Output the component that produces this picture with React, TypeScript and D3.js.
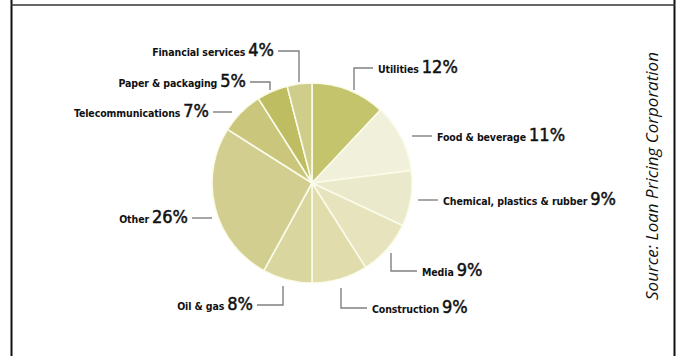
import React from "react";
import * as d3 from "d3";

const categories = [
  "Utilities",
  "Food & beverage",
  "Chemical, plastics & rubber",
  "Media",
  "Construction",
  "Oil & gas",
  "Other",
  "Telecommunications",
  "Paper & packaging",
  "Financial services",
];
const shares = [12, 11, 9, 9, 9, 8, 26, 7, 5, 4];
const sliceColors = [
  "#c4c46c",
  "#f1f0da",
  "#ebe9cb",
  "#e6e3bd",
  "#e0dcab",
  "#d9d69f",
  "#d1ce8f",
  "#cac77d",
  "#bebd62",
  "#cfcd8a",
];
const sourceText = "Source: Loan Pricing Corporation";

// label layout (leader polyline relative to pie centre, text side)
const labelLayout: { pts: [number, number][]; side: "start" | "end" }[] = [
  { pts: [[42, -93], [42, -115], [61, -115]], side: "start" },
  { pts: [[100, -47], [120, -47]], side: "start" },
  { pts: [[106, 17], [126, 17]], side: "start" },
  { pts: [[79, 70], [79, 88], [105, 88]], side: "start" },
  { pts: [[29, 105], [29, 125], [55, 125]], side: "start" },
  { pts: [[-29, 103], [-29, 122], [-55, 122]], side: "end" },
  { pts: [[-100, 35], [-120, 35]], side: "end" },
  { pts: [[-80, -71], [-99, -71]], side: "end" },
  { pts: [[-42, -93], [-42, -101], [-62, -101]], side: "end" },
  { pts: [[-13, -101], [-13, -132], [-34, -132]], side: "end" },
];

const W = 678;
const H = 356;
const cx = 312;
const cy = 183;
const R = 100;

export default function App() {
  const pie = d3
    .pie<number>()
    .sort(null)
    .value((d) => d)
    .startAngle(0)
    .endAngle(2 * Math.PI);
  const arcs = pie(shares);
  const arc = d3.arc<d3.PieArcDatum<number>>().innerRadius(0).outerRadius(R);
  const line = d3.line();
  const nameFont = "'DejaVu Sans Condensed', 'DejaVu Sans', sans-serif";

  return (
    <svg
      width={W}
      height={H}
      style={{ position: "absolute", left: 0, top: 0, background: "#fff" }}
    >
      <rect x={0} y={0} width={W} height={H} fill="#fff" />
      {/* frame */}
      <line x1={11.5} y1={0} x2={11.5} y2={H} stroke="#111" strokeWidth={2} />
      <line x1={674.5} y1={0} x2={674.5} y2={H} stroke="#111" strokeWidth={2} />
      <line x1={11} y1={5} x2={675} y2={5} stroke="#333" strokeWidth={1.5} />

      <g transform={`translate(${cx},${cy})`}>
        {arcs.map((a, i) => (
          <path
            key={i}
            d={arc(a) || ""}
            fill={sliceColors[i]}
            stroke="#fbfbea"
            strokeWidth={1.6}
            strokeLinejoin="round"
          />
        ))}
        {labelLayout.map((l, i) => {
          const end = l.pts[l.pts.length - 1];
          const tx = end[0] + (l.side === "start" ? 5 : -4);
          return (
            <g key={i}>
              <path d={line(l.pts) || ""} fill="none" stroke="#808080" strokeWidth={1.4} />
              <text
                x={tx}
                y={end[1] + 5}
                textAnchor={l.side}
                fill="#111"
                fontFamily={nameFont}
              >
                <tspan fontSize={10.5} fontWeight="bold" letterSpacing={-0.1}>
                  {categories[i]}
                </tspan>
                <tspan fontSize={18} dx={3} stroke="#111" strokeWidth={0.5}>
                  {shares[i]}%
                </tspan>
              </text>
            </g>
          );
        })}
      </g>

      <text
        transform={`translate(658,176) rotate(-90)`}
        textAnchor="middle"
        fontFamily="'Open Sans', sans-serif"
        fontStyle="italic"
        fontSize={17}
        fill="#111"
      >
        {sourceText}
      </text>
    </svg>
  );
}
